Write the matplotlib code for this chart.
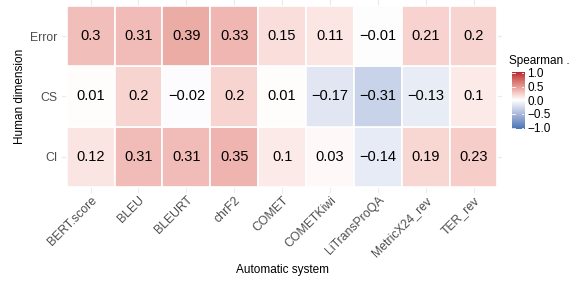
import numpy as np
import matplotlib
matplotlib.use("Agg")
import matplotlib.pyplot as plt
from matplotlib.colors import ListedColormap, Normalize, to_rgb
from matplotlib.patches import Rectangle

plt.rcParams['font.family'] = ['Liberation Sans', 'DejaVu Sans']

systems = ["BERT.score", "BLEU", "BLEURT", "chrF2", "COMET", "COMETKiwi",
           "LiTransProQA", "MetricX24_rev", "TER_rev"]
dimensions = ["CI", "CS", "Error"]  # bottom to top
error_vals = [0.3, 0.31, 0.39, 0.33, 0.15, 0.11, -0.01, 0.21, 0.2]
cs_vals = [0.01, 0.2, -0.02, 0.2, 0.01, -0.17, -0.31, -0.13, 0.1]
ci_vals = [0.12, 0.31, 0.31, 0.35, 0.1, 0.03, -0.14, 0.19, 0.23]
legend_ticks = [-1.0, -0.5, 0.0, 0.5, 1.0]


# diverging gradient interpolated in Lab space, like ggplot's gradient2
def srgb_to_lab(c):
    c = np.asarray(c, float)
    lin = np.where(c <= 0.04045, c / 12.92, ((c + 0.055) / 1.055) ** 2.4)
    m = np.array([[0.4124, 0.3576, 0.1805],
                  [0.2126, 0.7152, 0.0722],
                  [0.0193, 0.1192, 0.9505]])
    xyz = m @ lin / np.array([0.95047, 1.0, 1.08883])
    f = np.where(xyz > 0.008856, np.cbrt(xyz), 7.787 * xyz + 16 / 116)
    return np.array([116 * f[1] - 16, 500 * (f[0] - f[1]), 200 * (f[1] - f[2])])


def lab_to_srgb(lab):
    fy = (lab[0] + 16) / 116
    fx = fy + lab[1] / 500
    fz = fy - lab[2] / 200
    f = np.array([fx, fy, fz])
    xyz = np.where(f ** 3 > 0.008856, f ** 3, (f - 16 / 116) / 7.787)
    xyz = xyz * np.array([0.95047, 1.0, 1.08883])
    m = np.array([[3.2406, -1.5372, -0.4986],
                  [-0.9689, 1.8758, 0.0415],
                  [0.0557, -0.2040, 1.0570]])
    lin = m @ xyz
    c = np.where(lin <= 0.0031308, 12.92 * lin, 1.055 * np.clip(lin, 0, None) ** (1 / 2.4) - 0.055)
    return np.clip(c, 0, 1)


low = srgb_to_lab(to_rgb("#4575B4"))
mid = srgb_to_lab(to_rgb("#FFFFFF"))
high = srgb_to_lab(to_rgb("#B2182B"))
colors = []
for t in np.linspace(-1, 1, 256):
    if t < 0:
        lab = mid + (low - mid) * (-t)
    else:
        lab = mid + (high - mid) * t
    colors.append(lab_to_srgb(lab))
cmap = ListedColormap(colors)
norm = Normalize(-1, 1)

fig = plt.figure(figsize=(5.84, 2.82), dpi=100)
ax = fig.add_axes([0.106, 0.316, 0.754, 0.684])

rows = [ci_vals, cs_vals, error_vals]
grid_col = "#EBEBEB"
for i in range(len(systems)):
    ax.axvline(i, color=grid_col, lw=0.8, zorder=0)
for j in range(len(dimensions)):
    ax.axhline(j, color=grid_col, lw=0.8, zorder=0)

for j, vals in enumerate(rows):
    for i, v in enumerate(vals):
        ax.add_patch(Rectangle((i - 0.5, j - 0.5), 1, 1, facecolor=cmap(norm(v)),
                               edgecolor="white", lw=1.2, zorder=1))
        label = f"{v:g}".replace("-", "\u2212")
        ax.text(i, j, label, ha="center", va="center", fontsize=10.5,
                color="black", zorder=2)

ax.set_xlim(-0.6, len(systems) - 0.4)
ax.set_ylim(-0.6, len(dimensions) - 0.4)
ax.set_xticks(range(len(systems)))
ax.set_xticklabels(systems, rotation=45, ha="right", va="top",
                   rotation_mode="anchor", fontsize=8.8, color="#4D4D4D")
ax.set_yticks(range(len(dimensions)))
ax.set_yticklabels(dimensions, fontsize=8.8, color="#4D4D4D")
ax.tick_params(axis="x", length=0, pad=1)
ax.tick_params(axis="y", length=0, pad=3)
for s in ax.spines.values():
    s.set_visible(False)
ax.set_xlabel("Automatic system", fontsize=8.5, labelpad=4)
ax.set_ylabel("Human dimension", fontsize=8.5, labelpad=3)

# legend colourbar
cax = fig.add_axes([0.877, 0.543, 0.021, 0.203])
grad = np.linspace(-1, 1, 256).reshape(-1, 1)
cax.imshow(grad, aspect="auto", cmap=cmap, norm=norm, origin="lower",
           extent=[0, 1, -1.05, 1.05])
cax.set_ylim(-1.05, 1.05)
cax.set_xticks([])
cax.set_yticks(legend_ticks)
cax.yaxis.tick_right()
cax.set_yticklabels([f"{t:.1f}".replace("-", "\u2212") for t in legend_ticks],
                    fontsize=8.5, color="black")
cax.tick_params(axis="y", length=0, pad=2)
for t in legend_ticks:
    cax.plot([0, 0.2], [t, t], color="white", lw=0.6)
    cax.plot([0.8, 1], [t, t], color="white", lw=0.6)
cax.set_xlim(0, 1)
for s in cax.spines.values():
    s.set_visible(False)
fig.text(0.871, 0.762, "Spearman .", fontsize=8.5, ha="left", va="bottom")

fig.savefig("out.png", dpi=100)
